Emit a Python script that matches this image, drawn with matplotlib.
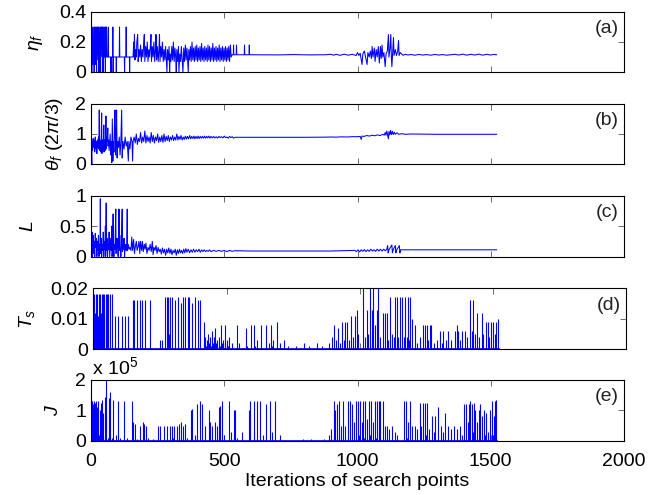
import matplotlib
matplotlib.use('Agg')
import matplotlib.pyplot as plt

plt.rcParams.update({'font.family': 'Liberation Sans', 'font.size': 14,
                     'mathtext.fontset': 'custom',
                     'mathtext.rm': 'Liberation Sans',
                     'mathtext.it': 'Liberation Sans:italic'})

# (iteration, value)
eta_f_pts = [
    (0,0.12),(1,0.3),(3,0.0),(4,0.25),(6,0.05),(7,0.3),(9,0.1),(10,0.2),(12,0.0),(13,0.3),(15,0.15),(16,0.3),
    (18,0.05),(19,0.22),(21,0.0),(22,0.3),(24,0.12),(25,0.3),(27,0.08),(28,0.3),(30,0.0),(31,0.25),(33,0.1),
    (34,0.3),(36,0.0),(37,0.3),(39,0.15),(40,0.3),(42,0.1),(43,0.3),(45,0.0),(46,0.3),(48,0.1),(49,0.28),
    (51,0.1),(52,0.3),(54,0.0),(55,0.3),(57,0.1),(58,0.3),(60,0.1),
    (64,0.1),(65,0.3),(66,0.1),(74,0.1),(75,0.0),(76,0.1),(81,0.1),(82,0.3),(83,0.0),(84,0.1),(94,0.1),(95,0.0),
    (96,0.1),(106,0.1),(107,0.3),(108,0.1),(125,0.1),(126,0.0),(127,0.1),(131,0.1),(132,0.3),(133,0.1),
    (144,0.1),(145,0.0),(146,0.1),(158,0.1),
    (160,0.2),(162,0.1),(163,0.25),(165,0.08),(168,0.15),(170,0.1),(172,0.2),(175,0.25),(177,0.07),(180,0.15),
    (183,0.1),(186,0.18),(189,0.07),(192,0.15),(195,0.1),(198,0.2),(200,0.25),(202,0.07),(205,0.17),(208,0.1),
    (211,0.2),(214,0.07),(217,0.15),(220,0.1),(223,0.18),(225,0.25),(227,0.07),(230,0.17),(233,0.1),(236,0.2),
    (239,0.07),(242,0.15),(244,0.25),(246,0.08),(249,0.17),(252,0.07),(255,0.15),(257,0.25),(259,0.07),
    (262,0.17),(265,0.1),(268,0.2),(271,0.07),(274,0.15),(277,0.08),
    (280,0.17),(283,0.07),(285,0.0),(287,0.15),(290,0.08),(293,0.17),(295,0.0),(297,0.12),(300,0.07),(303,0.17),
    (306,0.08),(309,0.2),(312,0.07),(315,0.16),(318,0.09),(320,0.0),(322,0.15),(325,0.07),(328,0.17),(330,0.0),
    (333,0.12),(336,0.07),(339,0.17),(342,0.08),(345,0.0),(348,0.16),(351,0.07),(354,0.18),(357,0.08),(360,0.16),
    (363,0.07),(365,0.0),(367,0.15),(370,0.08),(373,0.17),(376,0.07),(379,0.2),(382,0.08),(385,0.16),(388,0.07),
    (391,0.17),(394,0.08),(397,0.18),(400,0.07),(403,0.16),(406,0.08),(409,0.17),(412,0.07),(415,0.19),
    (418,0.08),(421,0.16),(424,0.07),(427,0.17),(430,0.08),(433,0.16),(436,0.07),(439,0.18),(442,0.08),
    (445,0.17),(448,0.07),(451,0.16),(454,0.08),(457,0.19),(460,0.07),(463,0.16),(466,0.08),(469,0.17),
    (472,0.07),(475,0.16),(478,0.08),(481,0.18),(484,0.07),(487,0.16),(490,0.08),(493,0.17),(496,0.07),
    (499,0.16),(502,0.08),(505,0.17),(508,0.07),(511,0.16),(514,0.08),(517,0.17),(520,0.07),(523,0.18),
    (526,0.1),(530,0.115),
    (534,0.115),(535,0.18),(536,0.115),(545,0.115),(546,0.18),(547,0.115),(575,0.115),(576,0.18),(577,0.115),
    (593,0.115),(594,0.18),(595,0.115),(700,0.114),(760,0.116),(820,0.114),(880,0.115),(900,0.118),(910,0.112),
    (920,0.118),(935,0.111),(950,0.119),(965,0.112),(980,0.118),(995,0.11),
    (1000,0.13),(1005,0.11),(1010,0.125),(1017,0.05),(1020,0.12),(1026,0.14),(1030,0.1),(1036,0.05),(1039,0.13),
    (1044,0.1),(1048,0.14),(1052,0.09),(1055,0.17),(1058,0.1),(1063,0.16),(1066,0.07),(1070,0.15),(1074,0.1),
    (1078,0.17),(1082,0.06),(1086,0.17),(1089,0.09),(1092,0.18),(1095,0.1),(1099,0.13),(1104,0.035),(1107,0.12),
    (1112,0.14),(1116,0.25),(1118,0.1),(1122,0.16),(1125,0.25),(1127,0.1),(1129,0.035),(1132,0.13),(1135,0.23),
    (1137,0.11),(1142,0.15),(1146,0.11),(1151,0.14),(1154,0.21),(1156,0.11),(1160,0.13),
    (1170,0.112),(1180,0.118),(1190,0.113),(1200,0.117),(1215,0.112),(1230,0.117),(1245,0.113),(1260,0.116),
    (1275,0.112),(1290,0.117),(1305,0.113),(1320,0.116),(1335,0.112),(1350,0.115),(1365,0.118),(1380,0.113),
    (1395,0.119),(1410,0.112),(1425,0.118),(1440,0.113),(1455,0.119),(1470,0.112),(1485,0.118),(1500,0.113),
    (1510,0.117),(1522,0.115)]

theta_f_pts = [
    (0,0.85),(2,0.3),(3,0.0),(4,0.75),(6,0.45),(8,0.85),(10,0.55),(12,0.8),(14,0.4),(16,0.9),(18,0.5),(20,0.75),
    (22,0.35),(24,0.8),(26,0.55),(28,0.9),(30,0.5),(31,1.8),(32,0.45),(34,0.8),(36,0.4),(38,0.75),(40,1.7),
    (41,0.35),(43,0.8),(45,0.5),(47,0.75),(48,1.3),(49,0.4),(51,0.8),(53,0.45),(55,0.75),(56,1.6),(57,0.5),
    (59,0.8),(61,0.75),(63,1.2),(64,0.6),(66,0.8),(68,0.45),(70,0.75),(72,1.0),(74,0.3),(76,0.75),(78,0.05),
    (80,1.5),(82,0.1),(84,0.75),(86,0.4),(88,1.3),(90,1.8),(92,0.3),(94,0.75),(96,1.8),(98,0.2),(100,0.75),
    (103,0.55),(106,0.9),(109,0.3),(112,0.75),(115,1.8),(117,0.2),(120,0.75),(124,0.5),(128,0.9),(132,0.6),
    (136,0.75),(140,0.1),(142,0.75),(146,0.5),(150,0.9),(154,0.75),(156,0.1),(158,0.75),
    (162,0.9),(166,0.7),(170,1.0),(174,0.65),(178,0.85),(182,0.75),(186,1.05),(190,0.7),(194,0.9),(198,0.75),
    (202,1.1),(206,0.7),(210,0.95),(214,0.75),(218,0.9),(222,0.7),(226,1.05),(230,0.75),(234,0.95),(238,0.7),
    (242,0.9),(246,0.78),(250,1.0),(254,0.72),(258,0.9),(262,0.75),(266,0.95),(270,0.72),(274,1.0),(278,0.75),
    (282,0.92),(286,0.78),(290,0.95),(294,0.75),(298,0.9),(302,0.8),(306,0.95),(310,0.78),(314,0.9),(318,0.8),
    (322,1.0),(326,0.8),(330,0.92),(334,0.82),(338,0.95),(342,0.8),(346,0.9),(350,0.82),(354,0.93),(358,0.83),
    (362,0.92),(366,0.84),(370,0.95),(374,0.84),(378,0.92),(382,0.85),(386,0.93),(390,0.84),(394,0.92),
    (398,0.85),(402,0.93),(406,0.85),(410,0.92),(414,0.86),(418,0.92),(422,0.86),(426,0.93),(430,0.86),
    (434,0.92),(438,0.87),(442,0.93),(446,0.86),(450,0.92),(455,0.87),(460,0.92),(465,0.87),(470,0.91),
    (475,0.86),(480,0.92),(485,0.88),(490,0.91),(495,0.87),(500,0.93),(505,0.88),(510,0.9),(515,0.86),
    (520,0.92),(525,0.88),(530,0.91),(535,0.86),(540,0.89),
    (600,0.89),(700,0.89),(800,0.89),(880,0.895),(900,0.9),(920,0.895),(940,0.905),(960,0.9),(980,0.91),
    (1000,0.91),(1010,0.92),(1014,0.82),(1017,0.93),(1025,0.92),(1035,0.95),(1045,0.93),(1055,0.96),(1065,0.94),
    (1075,0.97),(1085,0.95),(1095,0.99),(1100,0.96),(1104,1.05),(1107,0.96),(1110,1.1),(1113,0.97),(1116,0.84),
    (1118,1.08),(1121,0.97),(1124,1.12),(1127,0.98),(1131,1.09),(1134,0.98),(1138,1.06),(1142,0.99),(1148,1.04),
    (1155,0.99),(1165,1.01),(1180,0.99),(1200,1.0),(1300,0.99),(1400,0.99),(1522,0.99)]

L_pts = [
    (0,0.45),(2,0.3),(4,0.4),(5,0.0),(6,0.2),(8,0.35),(10,0.05),(12,0.25),(14,0.0),(16,0.38),(18,0.15),(20,0.3),
    (22,0.0),(24,0.25),(26,0.1),(28,0.35),(30,0.0),(32,0.2),(34,0.1),(35,0.95),(36,0.05),(38,0.3),(40,0.0),
    (42,0.2),(44,0.1),(46,0.4),(48,0.0),(50,0.25),(52,0.12),(54,0.5),(55,0.0),(57,0.88),(58,0.1),(60,0.3),
    (62,0.0),(64,0.2),(66,0.12),(68,0.4),(70,0.0),(72,0.15),(74,0.3),(76,0.1),(78,0.5),(79,0.0),(81,0.12),
    (83,0.7),(84,0.1),(86,0.0),(88,0.2),(90,0.12),(93,0.78),(94,0.05),(96,0.15),(98,0.3),(100,0.1),(102,0.0),
    (104,0.15),(105,0.78),(106,0.1),(108,0.35),(110,0.12),(112,0.0),(114,0.15),(117,0.78),(118,0.08),(120,0.2),
    (122,0.12),(124,0.3),(126,0.0),(128,0.15),(130,0.2),(132,0.1),(134,0.15),(136,0.78),(137,0.1),(140,0.2),
    (143,0.12),(146,0.15),(150,0.1),
    (153,0.32),(156,0.1),(160,0.28),(163,0.05),(166,0.15),(170,0.25),(173,0.1),(176,0.15),(180,0.25),(183,0.05),
    (186,0.25),(190,0.1),(193,0.25),(196,0.08),(200,0.2),(203,0.12),(206,0.22),(210,0.05),(214,0.15),(218,0.1),
    (222,0.2),(226,0.08),(230,0.25),(233,0.03),(236,0.15),(240,0.1),(244,0.18),(248,0.05),(252,0.15),(256,0.08),
    (260,0.12),(264,0.04),(268,0.14),(272,0.06),(276,0.12),(280,0.02),(284,0.12),(288,0.06),(292,0.14),
    (296,0.05),(300,0.12),(304,0.03),(308,0.1),(312,0.06),(316,0.12),(320,0.02),(324,0.11),(328,0.05),
    (332,0.12),(336,0.06),(340,0.1),(344,0.05),(348,0.12),(352,0.06),(356,0.13),(360,0.07),(365,0.12),
    (370,0.06),(375,0.11),(380,0.07),(385,0.12),(390,0.07),(395,0.11),(400,0.08),(405,0.12),(410,0.07),
    (415,0.11),(420,0.08),(425,0.11),(430,0.08),(435,0.1),(440,0.085),(445,0.11),(450,0.08),(460,0.1),
    (470,0.085),(480,0.1),(490,0.085),(500,0.1),(510,0.08),(520,0.1),(530,0.085),(540,0.095),
    (600,0.09),(700,0.09),(800,0.09),(900,0.09),(950,0.095),(990,0.1),(996,0.08),(1002,0.11),(1008,0.075),
    (1014,0.11),(1020,0.085),(1026,0.115),(1032,0.08),(1038,0.11),(1044,0.085),(1050,0.12),(1056,0.09),
    (1062,0.11),(1068,0.085),(1074,0.12),(1080,0.09),(1086,0.12),(1092,0.09),(1098,0.12),(1104,0.095),
    (1110,0.12),(1113,0.18),(1115,0.06),(1118,0.11),(1129,0.19),(1131,0.06),(1134,0.11),(1142,0.18),
    (1144,0.06),(1147,0.11),(1157,0.18),(1159,0.06),(1162,0.11),(1200,0.11),(1300,0.11),(1400,0.11),
    (1522,0.11)]

Ts_pts = [
    (0,0.011),(2,0.018),(4,0.008),(6,0.012),(8,0.0),(10,0.018),(12,0.009),(14,0.018),(16,0.011),(18,0.0),
    (20,0.018),(22,0.01),(24,0.018),(26,0.008),(28,0.012),(30,0.0),(32,0.018),(34,0.012),(36,0.018),(38,0.0),
    (40,0.018),(42,0.01),(44,0.0),(46,0.018),(48,0.012),(50,0.0),(52,0.018),(54,0.005),(56,0.018),(58,0.0),
    (62,0.018),(64,0.0),(70,0.0),(72,0.018),(74,0.0),(78,0.0),(80,0.011),(82,0.0),(92,0.0),(94,0.011),(96,0.0),
    (104,0.0),(106,0.011),(108,0.0),(118,0.0),(120,0.011),(122,0.0),(128,0.0),(130,0.011),(132,0.0),
    (148,0.0),(150,0.016),(152,0.0),(154,0.016),(156,0.0),(162,0.0),(164,0.016),(166,0.0),(172,0.0),(174,0.016),
    (176,0.0),(180,0.0),(182,0.016),(184,0.0),(192,0.0),(194,0.016),(196,0.0),(210,0.0),(212,0.016),(214,0.0),
    (250,0.0),(252,0.003),(254,0.0),(256,0.003),(258,0.0),
    (268,0.0),(270,0.017),(272,0.0),(276,0.017),(278,0.0),(282,0.017),(284,0.005),(286,0.017),(288,0.0),
    (294,0.0),(296,0.017),(298,0.0),(304,0.0),(306,0.016),(308,0.0),(316,0.0),(318,0.017),(320,0.0),(326,0.0),
    (328,0.015),(330,0.0),(336,0.0),(338,0.017),(340,0.0),(344,0.017),(346,0.0),(352,0.0),(354,0.017),(356,0.0),
    (360,0.017),(362,0.0),(370,0.0),(372,0.015),(374,0.0),(380,0.0),(382,0.017),(384,0.0),(390,0.0),(392,0.016),
    (394,0.0),(398,0.0),(400,0.016),(402,0.0),
    (412,0.0),(414,0.009),(416,0.002),(420,0.004),(422,0.001),(426,0.003),(428,0.0),(432,0.005),(434,0.002),
    (438,0.004),(440,0.001),(446,0.006),(448,0.002),(452,0.004),(454,0.0),(458,0.007),(460,0.002),(466,0.003),
    (468,0.0),(472,0.004),(474,0.001),(480,0.008),(482,0.002),(488,0.003),(490,0.0),(494,0.008),(496,0.002),
    (502,0.003),(504,0.001),(510,0.004),(512,0.0),(520,0.002),(522,0.0),
    (536,0.0),(538,0.008),(540,0.0),(548,0.002),(550,0.0),(572,0.0),(574,0.007),(576,0.001),(590,0.0),
    (592,0.008),(594,0.0),(602,0.0),(604,0.008),(606,0.001),(615,0.003),(618,0.0),(626,0.0),(628,0.008),
    (630,0.0),(645,0.0),(647,0.008),(649,0.001),(660,0.002),(662,0.0),(666,0.0),(668,0.008),(670,0.001),
    (676,0.003),(678,0.0),(686,0.0),(688,0.009),(690,0.0),(700,0.002),(702,0.0),(712,0.0),(714,0.003),
    (716,0.0),(730,0.001),(745,0.0),(760,0.001),(775,0.0),(790,0.002),(792,0.0),(810,0.001),(825,0.0),
    (840,0.002),(842,0.0),(860,0.001),(870,0.0),(885,0.002),(887,0.0),
    (895,0.0),(897,0.004),(899,0.0),(905,0.008),(907,0.0),(912,0.003),(914,0.0),(918,0.007),(920,0.001),
    (926,0.002),(928,0.0),(932,0.009),(934,0.0),(940,0.003),(942,0.0),(946,0.009),(948,0.0),(952,0.009),
    (954,0.0),(960,0.003),(962,0.0),(968,0.011),(970,0.0),(976,0.004),(978,0.0),(982,0.011),(984,0.0),
    (988,0.013),(990,0.0),(994,0.005),(996,0.0),
    (1011,0.0),(1013,0.02),(1015,0.0),(1020,0.004),(1022,0.0),(1026,0.013),(1028,0.0),(1032,0.005),(1034,0.0),
    (1038,0.02),(1040,0.0),(1044,0.013),(1046,0.002),(1049,0.0),(1051,0.02),(1053,0.0),(1058,0.008),(1060,0.0),
    (1063,0.013),(1065,0.0),(1067,0.0),(1069,0.02),(1071,0.0),(1076,0.004),(1078,0.0),
    (1088,0.012),(1090,0.0),(1094,0.012),(1096,0.0),(1101,0.012),(1103,0.0),(1107,0.003),(1109,0.0),
    (1113,0.017),(1115,0.0),(1120,0.005),(1122,0.0),(1130,0.004),(1131,0.0),(1132,0.017),(1134,0.0),
    (1138,0.017),(1140,0.0),(1145,0.004),(1147,0.0),(1151,0.017),(1153,0.0),(1157,0.017),(1159,0.0),
    (1164,0.004),(1166,0.0),(1170,0.017),(1172,0.0),(1176,0.004),(1178,0.0),(1182,0.017),(1184,0.003),
    (1188,0.017),(1190,0.0),(1194,0.01),(1196,0.0),
    (1205,0.0),(1207,0.008),(1209,0.0),(1216,0.002),(1218,0.0),(1226,0.004),(1228,0.0),(1236,0.0),(1238,0.008),
    (1240,0.0),(1244,0.008),(1246,0.0),(1251,0.008),(1253,0.0),(1257,0.003),(1259,0.0),(1263,0.008),(1265,0.0),
    (1269,0.008),(1271,0.0),(1280,0.002),(1282,0.0),(1290,0.003),(1292,0.0),(1301,0.006),(1303,0.0),
    (1308,0.002),(1310,0.0),(1313,0.006),(1315,0.0),(1322,0.003),(1324,0.0),(1332,0.006),(1334,0.0),
    (1344,0.003),(1346,0.0),(1357,0.006),(1359,0.0),(1363,0.008),(1365,0.0),(1369,0.006),(1371,0.0),
    (1376,0.003),(1378,0.0),(1382,0.006),(1384,0.0),(1394,0.006),(1396,0.0),
    (1404,0.004),(1406,0.0),(1413,0.016),(1415,0.0),(1420,0.006),(1422,0.0),(1426,0.016),(1428,0.0),
    (1433,0.005),(1435,0.0),(1440,0.012),(1442,0.0),(1448,0.004),(1450,0.0),(1457,0.012),(1459,0.0),
    (1464,0.005),(1466,0.0),(1472,0.009),(1474,0.0),(1480,0.009),(1482,0.0),(1486,0.004),(1488,0.0),
    (1492,0.009),(1494,0.0),(1500,0.009),(1502,0.0),(1506,0.005),(1508,0.0),(1512,0.009),(1514,0.0),
    (1520,0.01),(1522,0.0)]

# J in units of 10^5
J_pts = [
    (0,1.4),(2,0.3),(4,1.3),(6,0.2),(8,1.2),(10,0.5),(12,1.3),(14,0.1),(16,1.25),(18,0.4),(20,1.3),(22,0.0),
    (24,1.1),(26,0.3),(28,1.3),(30,0.2),(32,1.0),(34,0.0),(36,1.25),(38,0.3),(40,1.35),(42,0.05),(44,0.9),
    (46,0.1),(48,0.0),(51,1.45),(53,0.0),(57,2.0),(59,0.0),(64,0.1),(66,1.4),(68,0.0),(73,1.6),(75,0.0),
    (80,0.1),(83,1.35),(85,0.0),(92,0.2),(94,0.0),(101,1.3),(103,0.0),(110,0.1),(112,0.0),(124,1.3),(126,0.0),
    (135,0.1),(137,0.0),(152,1.3),(154,0.0),(159,0.6),(161,0.0),(165,0.55),(167,0.0),(172,0.05),(176,0.0),
    (185,0.5),(187,0.0),(195,0.6),(197,0.0),(200,0.55),(202,0.0),(208,0.5),(210,0.0),(215,0.1),(217,0.0),
    (232,0.05),(234,0.0),
    (250,0.0),(252,0.5),(254,0.0),(258,0.5),(260,0.0),(275,0.5),(277,0.0),(284,0.5),(286,0.0),(295,0.5),
    (297,0.0),(304,0.5),(306,0.1),(312,0.5),(314,0.0),(324,0.5),(326,0.0),(330,0.55),(332,0.1),(336,0.6),
    (338,0.0),(344,0.5),(346,0.0),(352,0.55),(354,0.0),(360,0.1),(362,0.0),(374,1.0),(376,0.1),(380,1.05),
    (382,0.0),(390,0.2),(392,0.0),(398,1.2),(400,0.0),(410,1.3),(412,0.0),(416,1.2),(418,0.0),(428,0.5),
    (430,0.0),(441,1.0),(443,0.0),(447,0.6),(449,0.0),(455,0.5),(457,0.0),(464,0.6),(466,0.0),(472,0.5),
    (474,0.0),(479,1.1),(481,0.3),(485,1.15),(487,0.0),(491,1.3),(493,0.0),(500,0.2),(502,0.0),(516,1.3),
    (518,0.0),(526,0.3),(528,0.0),(535,1.0),(537,0.1),(541,1.0),(543,0.0),
    (548,0.1),(550,0.0),(565,0.3),(567,0.0),(591,1.0),(593,0.0),(598,1.3),(600,0.0),(610,1.3),(612,0.3),
    (614,0.0),(622,1.3),(624,0.0),(635,1.3),(637,0.0),(645,0.2),(647,0.0),(658,1.2),(660,0.0),(670,1.3),
    (672,0.0),(680,0.3),(682,0.0),(691,1.3),(693,0.0),(710,0.2),(712,0.0),
    (795,0.0),(796,0.07),(798,0.0),(823,0.0),(824,0.07),(826,0.0),(873,0.0),(874,0.07),(876,0.0),
    (890,0.0),(892,0.2),(894,0.0),(902,0.4),(904,0.0),(910,1.3),(912,0.1),(916,1.0),(918,0.0),(924,1.2),
    (926,0.0),(930,1.3),(932,0.2),(938,0.5),(940,0.0),(946,1.3),(948,0.0),(954,0.5),(956,0.0),(964,1.3),
    (966,0.1),(970,1.3),(972,0.0),(978,1.2),(980,0.0),(986,0.6),(988,0.0),(994,1.3),(996,0.0),
    (1002,1.3),(1004,0.2),(1008,1.3),(1010,0.0),(1016,0.6),(1018,0.0),(1022,1.3),(1024,0.1),(1028,1.3),
    (1030,0.0),(1036,0.7),(1038,0.0),(1044,1.3),(1046,0.2),(1052,1.3),(1054,0.0),(1060,0.6),(1062,0.0),
    (1066,1.3),(1068,0.1),(1072,1.3),(1074,0.0),(1080,1.3),(1082,0.3),(1086,1.3),(1088,0.0),(1094,1.3),
    (1096,0.0),(1102,0.5),(1104,0.0),(1110,0.5),(1112,0.0),(1120,0.4),(1122,0.0),(1130,0.5),(1132,0.0),
    (1140,0.3),(1142,0.0),(1150,0.2),(1152,0.0),
    (1170,0.0),(1176,1.3),(1178,0.0),(1183,1.3),(1185,0.1),(1190,0.6),(1192,0.0),(1196,1.3),(1198,0.0),
    (1205,0.5),(1207,0.0),(1215,0.5),(1217,0.0),(1223,0.4),(1225,0.0),(1233,1.25),(1235,0.0),(1240,0.5),
    (1242,0.0),(1246,1.25),(1248,0.0),(1254,1.25),(1256,0.2),(1261,1.25),(1263,0.0),(1270,0.4),(1272,0.0),
    (1279,0.8),(1281,0.0),(1286,0.3),(1288,0.0),(1292,0.8),(1294,0.0),(1301,1.1),(1303,0.0),(1312,0.5),
    (1314,0.0),(1320,0.3),(1322,0.0),(1329,0.9),(1331,0.0),(1341,0.5),(1343,0.0),(1352,0.4),(1354,0.0),
    (1362,0.5),(1364,0.0),(1374,0.4),(1376,0.0),(1384,0.5),(1386,0.0),(1392,0.2),(1394,0.0),(1398,1.2),
    (1400,0.1),(1407,1.2),(1409,0.0),(1413,0.6),(1415,0.0),(1417,1.2),(1419,0.2),(1423,1.3),(1425,0.0),
    (1430,1.2),(1432,0.3),(1436,1.25),(1438,0.0),(1442,1.0),(1444,0.0),(1450,0.6),(1452,0.0),(1455,1.0),
    (1457,0.1),(1461,1.2),(1463,0.0),(1468,0.8),(1470,0.0),(1476,1.0),(1478,0.2),(1484,0.9),(1486,0.0),
    (1490,0.3),(1492,0.0),(1496,1.0),(1498,0.0),(1505,1.3),(1507,0.2),(1512,0.8),(1514,0.0),(1517,1.3),
    (1519,0.1),(1521,1.35),(1523,0.0)]

series = [eta_f_pts, theta_f_pts, L_pts, Ts_pts, J_pts]
spiky = [False, False, False, True, True]   # drawn as spikes from zero
ylabels = [r'$\eta_f$', r'$\theta_f\ (2\pi/3)$', r'$L$', r'$T_s$', r'$J$']
yticks = [[0, 0.2, 0.4], [0, 1, 2], [0, 0.5, 1], [0, 0.01, 0.02], [0, 1, 2]]
yticklabels = [['0', '0.2', '0.4'], ['0', '1', '2'], ['0', '0.5', '1'],
               ['0', '0.01', '0.02'], ['0', '1', '2']]
tags = ['(a)', '(b)', '(c)', '(d)', '(e)']
xticks = [0, 500, 1000, 1500, 2000]

fig = plt.figure(figsize=(6.49, 4.95), dpi=100)
W, H = 649.0, 495.0
# pixel boxes (left, top, right, bottom)
boxes = [(91, 12, 624, 72), (91, 104, 624, 164), (91, 195.7, 624, 256.5),
         (93.3, 288.3, 626.3, 349), (91, 380, 624, 440.7)]
label_x = [-0.086, -0.049, -0.101, -0.106, -0.054]

for i in range(5):
    l, t, r, b = boxes[i]
    ax = fig.add_axes([l / W, 1 - b / H, (r - l) / W, (b - t) / H])
    xs = [p[0] for p in series[i]]
    ys = [p[1] for p in series[i]]
    if spiky[i]:
        ax.vlines(xs, 0, ys, color='#0000ff', lw=0.8)
        ax.plot([xs[0], xs[-1]], [0, 0], color='#0000ff', lw=1.2)
    else:
        ax.plot(xs, ys, color='#0000ff', lw=0.75)
    ax.set_xlim(0, 2000)
    ax.set_ylim(yticks[i][0], yticks[i][-1])
    ax.set_yticks(yticks[i])
    ax.set_yticklabels(yticklabels[i])
    ax.set_xticks(xticks)
    ax.tick_params(direction='in', top=True, right=True, length=4, width=0.6,
                   color='#555555', labelsize=14)
    ax.tick_params(axis='x', pad=9)
    for s in ax.spines.values():
        s.set_linewidth(0.8)
    if i < 4:
        ax.set_xticklabels([])
    else:
        ax.set_xlabel('Iterations of search points', labelpad=2)
        ax.text(0.002, 1.03, r'x 10$^5$', transform=ax.transAxes, ha='left', va='bottom')
    ax.set_ylabel(ylabels[i])
    ax.yaxis.set_label_coords(label_x[i], 0.5)
    ax.text(0.99, 0.72, tags[i], transform=ax.transAxes, ha='right', va='center',
            color='#222222')

plt.savefig('out.png', dpi=100)
